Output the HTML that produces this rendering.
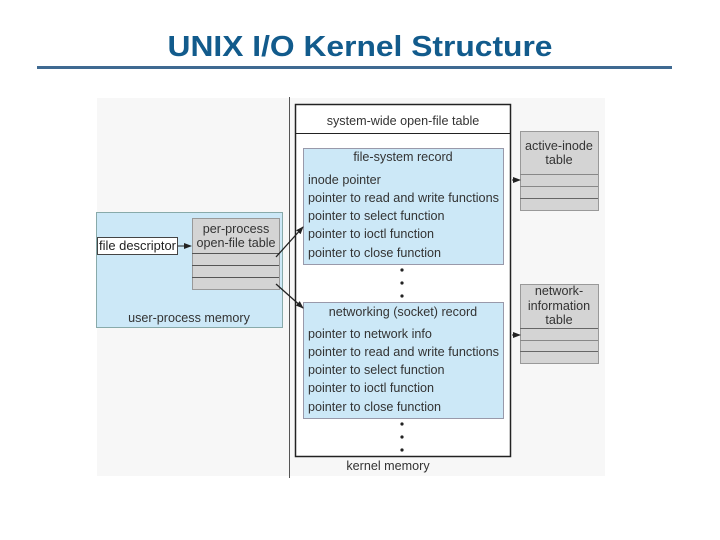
<!DOCTYPE html>
<html><head><style>
html,body{margin:0;padding:0;background:#fff;}
svg{display:block;}
text{font-family:"Liberation Sans",Arial,sans-serif;}
</style></head><body>
<svg width="720" height="540" viewBox="0 0 720 540" xmlns="http://www.w3.org/2000/svg">
<defs>
<marker id="ah" markerWidth="8" markerHeight="6" refX="7" refY="3" orient="auto" markerUnits="userSpaceOnUse">
<path d="M0,0 L8,3 L0,6 z" fill="#222"/>
</marker>
</defs>
<text x="360" y="56" text-anchor="middle" font-size="29" font-weight="bold" fill="#125b8c" textLength="385" lengthAdjust="spacingAndGlyphs">UNIX I/O Kernel Structure</text>
<rect x="37" y="66" width="635" height="3" fill="#3f6a92"/>

<rect x="97" y="98" width="508" height="378" fill="#f7f7f7"/>
<line x1="289.5" y1="97" x2="289.5" y2="478" stroke="#555" stroke-width="1"/>

<!-- user process -->
<rect x="96.5" y="212.5" width="186" height="115" fill="#cce8f7" stroke="#8aa" stroke-width="1"/>
<rect x="192.5" y="218.5" width="87" height="71" fill="#d4d4d4" stroke="#999"/>
<line x1="192" y1="253.5" x2="279" y2="253.5" stroke="#555"/>
<line x1="192" y1="265.5" x2="279" y2="265.5" stroke="#555"/>
<line x1="192" y1="277.5" x2="279" y2="277.5" stroke="#555"/>
<g font-size="12.6" fill="#333">
<text x="236" y="233" text-anchor="middle">per-process</text>
<text x="236" y="247" text-anchor="middle">open-file table</text>
</g>
<rect x="97.5" y="237.5" width="80" height="17" fill="#fff" stroke="#444"/>
<text x="99" y="250" font-size="12.6" fill="#222" textLength="77" lengthAdjust="spacingAndGlyphs">file descriptor</text>
<line x1="178" y1="246" x2="191" y2="246" stroke="#222" marker-end="url(#ah)"/>
<text x="189" y="322" text-anchor="middle" font-size="12.6" fill="#333">user-process memory</text>

<!-- kernel -->
<rect x="295.5" y="104.5" width="215" height="352" fill="#fff" stroke="#222" stroke-width="1.5"/>
<line x1="295" y1="133.5" x2="511" y2="133.5" stroke="#222"/>
<text x="403" y="125" text-anchor="middle" font-size="12.6" fill="#333">system-wide open-file table</text>

<rect x="303.5" y="148.5" width="200" height="116" fill="#cce8f7" stroke="#99a"/>
<g font-size="12.6" fill="#333">
<text x="403" y="161" text-anchor="middle">file-system record</text>
<text x="308" y="184">inode pointer</text>
<text x="308" y="202" textLength="191" lengthAdjust="spacingAndGlyphs">pointer to read and write functions</text>
<text x="308" y="220">pointer to select function</text>
<text x="308" y="238">pointer to ioctl function</text>
<text x="308" y="257">pointer to close function</text>
</g>
<g fill="#222"><circle cx="402" cy="270" r="1.6"/><circle cx="402" cy="283" r="1.6"/><circle cx="402" cy="296" r="1.6"/>
<circle cx="402" cy="424" r="1.6"/><circle cx="402" cy="437" r="1.6"/><circle cx="402" cy="450" r="1.6"/></g>

<rect x="303.5" y="302.5" width="200" height="116" fill="#cce8f7" stroke="#99a"/>
<g font-size="12.6" fill="#333">
<text x="403" y="316" text-anchor="middle">networking (socket) record</text>
<text x="308" y="338">pointer to network info</text>
<text x="308" y="356" textLength="191" lengthAdjust="spacingAndGlyphs">pointer to read and write functions</text>
<text x="308" y="374">pointer to select function</text>
<text x="308" y="392">pointer to ioctl function</text>
<text x="308" y="411">pointer to close function</text>
</g>
<text x="388" y="470" text-anchor="middle" font-size="12.6" fill="#333">kernel memory</text>

<line x1="276" y1="257" x2="303" y2="227" stroke="#222" stroke-width="1.3" marker-end="url(#ah)"/>
<line x1="276" y1="284" x2="303" y2="308" stroke="#222" stroke-width="1.3" marker-end="url(#ah)"/>

<!-- active inode -->
<rect x="520.5" y="131.5" width="78" height="79" fill="#d4d4d4" stroke="#999"/>
<line x1="520" y1="174.5" x2="598" y2="174.5" stroke="#888"/>
<line x1="520" y1="186.5" x2="598" y2="186.5" stroke="#888"/>
<line x1="520" y1="198.5" x2="598" y2="198.5" stroke="#666"/>
<text x="559" y="150" text-anchor="middle" font-size="12.6" fill="#333">active-inode</text>
<text x="559" y="164" text-anchor="middle" font-size="12.6" fill="#333">table</text>
<line x1="512" y1="180" x2="520" y2="180" stroke="#222" marker-end="url(#ah)"/>

<!-- network info -->
<rect x="520.5" y="284.5" width="78" height="79" fill="#d4d4d4" stroke="#999"/>
<line x1="520" y1="328.5" x2="598" y2="328.5" stroke="#666"/>
<line x1="520" y1="340.5" x2="598" y2="340.5" stroke="#888"/>
<line x1="520" y1="351.5" x2="598" y2="351.5" stroke="#666"/>
<text x="559" y="295" text-anchor="middle" font-size="12.6" fill="#333">network-</text>
<text x="559" y="310" text-anchor="middle" font-size="12.6" fill="#333">information</text>
<text x="559" y="324" text-anchor="middle" font-size="12.6" fill="#333">table</text>
<line x1="512" y1="335" x2="520" y2="335" stroke="#222" marker-end="url(#ah)"/>
</svg>
</body></html>
